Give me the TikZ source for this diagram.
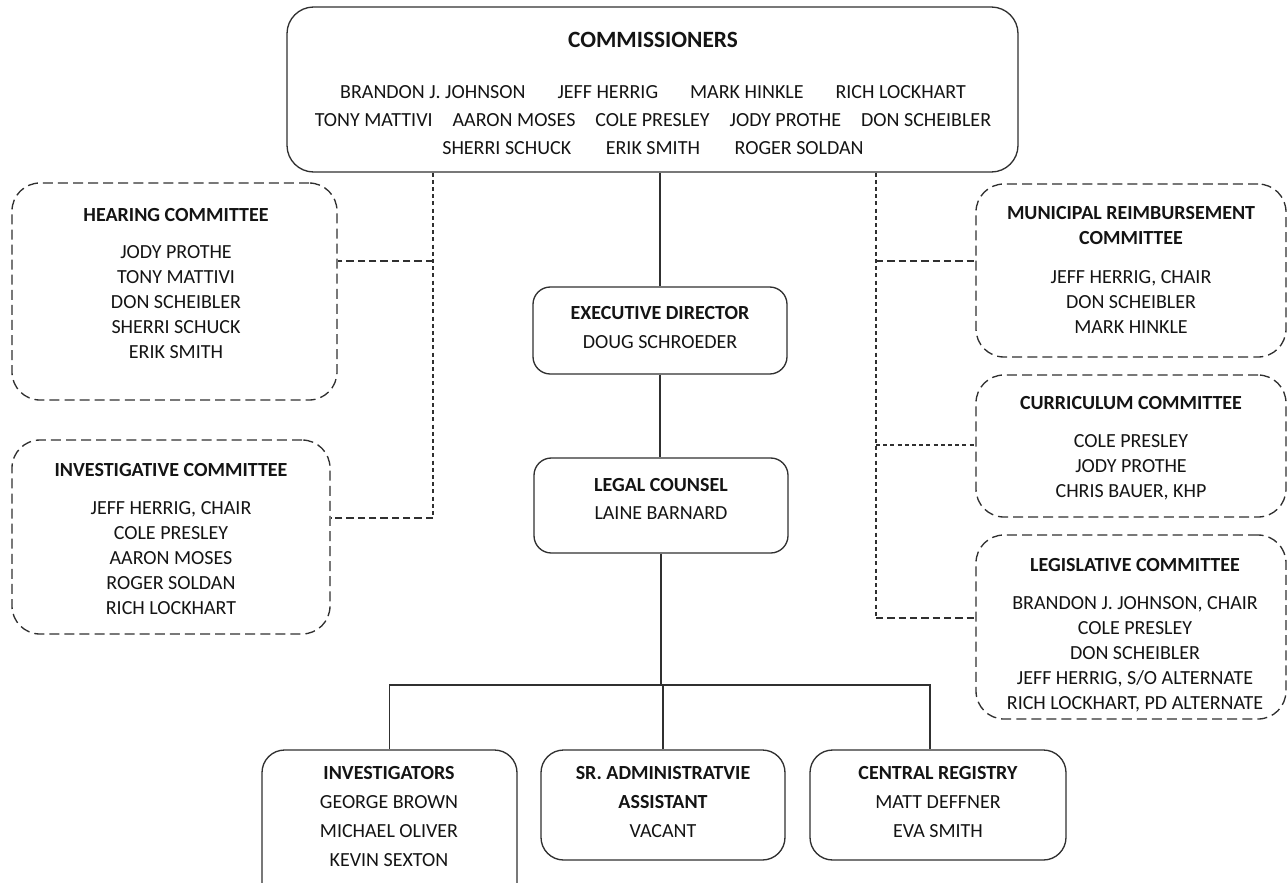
\documentclass[tikz,border=0pt]{standalone}
\usepackage{fontspec}
\setmainfont{Carlito}
\usetikzlibrary{fit}
\definecolor{ln}{HTML}{303030}
\definecolor{tx}{HTML}{141414}
\tikzset{
  x=0.75pt, y=-0.75pt,
  sbox/.style={draw=ln, line width=1pt, rounded corners=20pt, inner sep=0pt},
  bbox/.style={draw=ln, line width=1pt, rounded corners=17pt, inner sep=0pt},
  mbox/.style={draw=ln, line width=1pt, rounded corners=13pt, inner sep=0pt},
  dbox/.style={draw=ln, line width=1pt, rounded corners=21pt, inner sep=0pt, dash pattern=on 7.5pt off 3.8pt},
  conn/.style={draw=ln, line width=0.9pt},
  spine/.style={draw=ln, line width=0.9pt, dash pattern=on 3pt off 2.4pt},
  hdash/.style={draw=ln, line width=0.9pt, dash pattern=on 5.5pt off 3pt},
  txt/.style={text=tx, inner sep=0pt, align=center, font=\fontsize{15}{18.75}\selectfont},
  btxt/.style={text=tx, inner sep=0pt, align=center, font=\fontsize{15}{21.75}\selectfont},
}
\begin{document}
\begin{tikzpicture}
\useasboundingbox (0,0) rectangle (1288,882);
% boxes
\node[sbox, fit={(287,7) (1018,172)}] (top) {};
\node[dbox, fit={(12,183) (337,400)}] (hear) {};
\node[dbox, fit={(12,440) (330,634)}] (inv) {};
\node[dbox, fit={(976,184) (1286,357)}] (mun) {};
\node[dbox, fit={(976,375) (1286,517)}] (cur) {};
\node[dbox, fit={(976,535) (1286,719)}] (leg) {};
\node[mbox, fit={(533,287) (787,374)}] (ed) {};
\node[mbox, fit={(534,458) (788,553)}] (lc) {};
\node[bbox, fit={(262,750) (517,905)}] (invs) {};
\node[bbox, fit={(541,750) (785,860)}] (sr) {};
\node[bbox, fit={(810,750) (1066,860)}] (cr) {};
% texts
\node[txt, anchor=north, font=\fontsize{17.5}{21}\selectfont\bfseries] (top-t) at (653,32) {COMMISSIONERS};
\node[txt, anchor=north, font=\fontsize{15}{21}\selectfont] (top-n) at (653,85.5)
 {BRANDON J. JOHNSON\hspace{24pt}JEFF HERRIG\hspace{24pt}MARK HINKLE\hspace{24pt}RICH LOCKHART\\
  TONY MATTIVI\hspace{15pt}AARON MOSES\hspace{15pt}COLE PRESLEY\hspace{15pt}JODY PROTHE\hspace{15pt}DON SCHEIBLER\\
  SHERRI SCHUCK\hspace{26pt}ERIK SMITH\hspace{26pt}ROGER SOLDAN};
\node[txt, anchor=north] (hear-t) at (176,208.5)
 {\textbf{HEARING COMMITTEE}\\[9pt]JODY PROTHE\\TONY MATTIVI\\DON SCHEIBLER\\SHERRI SCHUCK\\ERIK SMITH};
\node[txt, anchor=north] (inv-t) at (171,463.5)
 {\textbf{INVESTIGATIVE COMMITTEE}\\[9.5pt]JEFF HERRIG, CHAIR\\COLE PRESLEY\\AARON MOSES\\ROGER SOLDAN\\RICH LOCKHART};
\node[txt, anchor=north] (mun-t) at (1131,206.5)
 {\textbf{MUNICIPAL REIMBURSEMENT}\\\textbf{COMMITTEE}\\[10pt]JEFF HERRIG, CHAIR\\DON SCHEIBLER\\MARK HINKLE};
\node[txt, anchor=north] (cur-t) at (1131,396.5)
 {\textbf{CURRICULUM COMMITTEE}\\[9.5pt]COLE PRESLEY\\JODY PROTHE\\CHRIS BAUER, KHP};
\node[txt, anchor=north] (leg-t) at (1135,558.5)
 {\textbf{LEGISLATIVE COMMITTEE}\\[9.5pt]BRANDON J. JOHNSON, CHAIR\\COLE PRESLEY\\DON SCHEIBLER\\JEFF HERRIG, S/O ALTERNATE\\RICH LOCKHART, PD ALTERNATE};
\node[txt, anchor=north, font=\fontsize{15}{21.5}\selectfont] (ed-t) at (660,306.5)
 {\textbf{EXECUTIVE DIRECTOR}\\DOUG SCHROEDER};
\node[txt, anchor=north, font=\fontsize{15}{21}\selectfont] (lc-t) at (661,478.5)
 {\textbf{LEGAL COUNSEL}\\LAINE BARNARD};
\node[btxt, anchor=north] (invs-t) at (389,766.5)
 {\textbf{INVESTIGATORS}\\GEORGE BROWN\\MICHAEL OLIVER\\KEVIN SEXTON};
\node[btxt, anchor=north] (sr-t) at (663,766.5)
 {\textbf{SR. ADMINISTRATVIE}\\\textbf{ASSISTANT}\\VACANT};
\node[btxt, anchor=north] (cr-t) at (938,766.5)
 {\textbf{CENTRAL REGISTRY}\\MATT DEFFNER\\EVA SMITH};
% solid connectors
\coordinate (bus) at (660,685);
\draw[conn] (ed.north) -- (ed.north |- top.south);
\draw[conn] (ed.south) -- (ed.south |- lc.north);
\draw[conn] (lc.south) -- (lc.south |- bus);
\draw[conn] (invs.north) |- (bus) -| ([xshift=-6pt]cr.north);
\draw[conn] (sr.north) -- (sr.north |- bus);
% dashed connectors
\coordinate (lh) at (433,261);
\coordinate (li) at (433,518);
\draw[spine] (top.south -| lh) -- (li);
\draw[hdash] (lh) -- (lh -| hear.east);
\draw[hdash] (li) -- (li -| inv.east);
\coordinate (rm) at (876,261);
\coordinate (rc) at (876,445);
\coordinate (rl) at (876,618);
\draw[spine] (top.south -| rm) -- (rl);
\draw[hdash] (rm) -- (rm -| mun.west);
\draw[spine] (rc) -- (rc -| cur.west);
\draw[hdash] (rl) -- (rl -| leg.west);
\end{tikzpicture}
\end{document}
